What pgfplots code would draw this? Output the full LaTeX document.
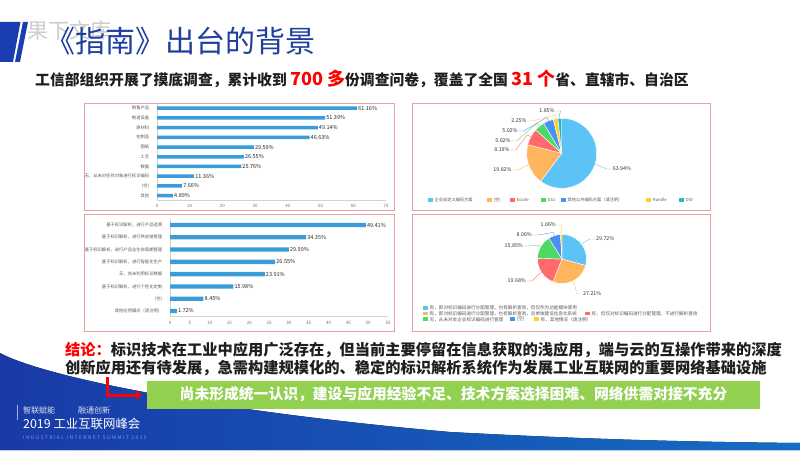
\documentclass[border=0pt]{standalone}
\usepackage{fontspec}
\setmainfont{Noto Sans CJK SC}
\usepackage{pgfplots}
\pgfplotsset{compat=1.18}
\usepackage{pgfplotstable}
\usetikzlibrary{arrows.meta}
\pgfplotsset{/pgf/number format/assume math mode=true}

\definecolor{titleblue}{HTML}{1F3F9F}
\definecolor{slideblue}{HTML}{1A3DB0}
\definecolor{barblue}{HTML}{3B9CDA}
\definecolor{frame}{HTML}{EBA1A1}
\definecolor{pA}{HTML}{5BC3F5}
\definecolor{pB}{HTML}{FFB55B}
\definecolor{pC}{HTML}{FF6B6B}
\definecolor{pD}{HTML}{4CD964}
\definecolor{pE}{HTML}{4A90F0}
\definecolor{pF}{HTML}{FFCD2E}
\definecolor{pG}{HTML}{2DB3C1}
\definecolor{boxgreen}{HTML}{92D050}
\definecolor{txt}{HTML}{595959}

\newcommand{\fsz}[1]{\fontsize{#1}{#1}\selectfont}
\newcommand{\pielabelfont}{\fontsize{5.3}{5.3}\selectfont}

\pgfplotstableread{
idx value label
0 4.89 其他
1 7.66 (空)
2 11.36 无，从未对任何对象进行标识编码
3 25.76 数据
4 26.55 工艺
5 29.59 图纸
6 46.63 在制品
7 49.14 原材料
8 51.39 制造设备
9 61.16 销售产品
}\tabA

\pgfplotstableread{
idx value label
0 1.72 其他应用模式（请注明）
1 8.45 (空)
2 15.98 基于标识解析，进行个性化定制
3 23.91 无，尚未利用标识数据
4 26.55 基于标识解析，进行智能化生产
5 29.99 基于标识解析，进行产品全生命周期管理
6 34.35 基于标识解析，进行供应链管理
7 49.41 基于标识解析，进行产品追溯
}\tabB

\pgfplotsset{
  hbarstyle/.style={
    xbar, scale only axis, anchor=south west,
    enlargelimits=false,
    ytick=data,
    axis x line*=bottom, axis y line*=left,
    axis line style={black!18, line width=0.5pt},
    tick style={draw=none},
    xticklabel style={font=\fsz{4.5}, text=black!55, yshift=-1pt},
    yticklabel style={font=\fsz{4.3}, text=txt},
    point meta=x,
    nodes near coords={\pgfmathprintnumber[fixed,fixed zerofill,precision=2]{\pgfplotspointmeta}\%},
    nodes near coords style={font=\fsz{5.5}, text=black!85, anchor=west, inner sep=1pt},
  }
}

\begin{document}
\begin{tikzpicture}[x=1pt,y=1pt]
\useasboundingbox (0,0) rectangle (800,450);
\fill[white] (0,0) rectangle (800,450);

% bottom blue wave
\fill[left color=slideblue!95!black, right color=slideblue!75!cyan]
  (0,0) -- (0,97) .. controls (40,75) and (200,40) .. (450,18)
  .. controls (600,10) and (700,8) .. (800,7) -- (800,0) -- cycle;

% top-left marks
\fill[slideblue] (0,428) -- (20.5,428) -- (13,388) -- (0,388) -- cycle;
\fill[slideblue] (23,428) -- (28,428) -- (20,388) -- (15,388) -- cycle;

% watermark and title
\node[anchor=base west, inner sep=0, font=\fsz{21}, text=black!20] at (27,411) {果下文库};
\node[anchor=base west, inner sep=0, font=\fsz{30}, text=titleblue] at (45,397.6) {《指南》出台的背景};

% subtitle
\node[anchor=base west, inner sep=0, font=\bfseries\fsz{14.8}, text=black!88] at (35,364.3)
 {工信部组织开展了摸底调查，累计收到 {\color{red}\fsz{18}700 多}份调查问卷，覆盖了全国 {\color{red}\fsz{18}31 个}省、直辖市、自治区};

% panel frames
\draw[frame, line width=0.9pt] (84,347) rectangle (394,240);
\draw[frame, line width=0.9pt] (84,236) rectangle (394,119);
\draw[frame, line width=0.9pt] (412,347) rectangle (710,240);
\draw[frame, line width=0.9pt] (412,236) rectangle (710,119);

% bar chart 1
\begin{axis}[hbarstyle, at={(157pt,250pt)}, width=229pt, height=96.2pt,
  bar width=3.5pt, xmin=0, xmax=70, ymin=-0.45, ymax=9.45,
  xtick={0,10,...,70}, yticklabels from table={\tabA}{label}]
\addplot[fill=barblue, draw=none] table[x=value, y=idx]{\tabA};
\end{axis}

% bar chart 2
\begin{axis}[hbarstyle, at={(170pt,133.5pt)}, width=218pt, height=97pt,
  bar width=4.3pt, xmin=0, xmax=55, ymin=-0.45, ymax=7.45,
  xtick={0,5,...,55}, yticklabels from table={\tabB}{label}]
\addplot[fill=barblue, draw=none] table[x=value, y=idx]{\tabB};
\end{axis}

% pie chart 1
\begin{axis}[at={(561.7pt,296.7pt)}, anchor=center, width=70pt, height=70pt, scale only axis,
  xmin=-1, xmax=1, ymin=-1, ymax=1, hide axis, clip=false]
\pgfmathsetmacro\pietotal{63.94+19.82+8.19+5.02+5.02+2.25+1.85}
\xdef\curang{90}
\foreach \v/\c/\lx/\ly/\anc/\hx in {63.94/pA/50/-15.7/west/-5, 19.82/pB/-49/-16.7/east/5,
   8.19/pC/-51/3.3/east/5, 5.02/pD/-50/12.3/east/5, 5.02/pE/-43/22.3/east/5,
   2.25/pF/-34/32.3/east/5, 1.85/pG/-6/42.3/east/5}{
  \pgfmathsetmacro\endang{\curang-\v/\pietotal*360}
  \pgfmathsetmacro\midang{(\curang+\endang)/2}
  \pgfmathsetmacro\ax{\lx+\hx}
  \edef\temp{%
    \noexpand\fill[\c, draw=white, line width=0.4pt] (axis cs:0,0) -- ++(\curang:35pt) arc[start angle=\curang, end angle=\endang, radius=35pt] -- cycle;
    \noexpand\draw[\c, line width=0.35pt] ([shift={(\midang:35pt)}]axis cs:0,0) -- ([shift={(\midang:39pt)}]axis cs:0,0) -- ([shift={(\ax pt,\ly pt)}]axis cs:0,0) -- ([shift={(\lx pt,\ly pt)}]axis cs:0,0) node[anchor=\anc, inner sep=1pt, text=black!80, font=\noexpand\pielabelfont]{\v\noexpand\%};
  }
  \temp
  \xdef\curang{\endang}
}
\end{axis}

% pie chart 2
\begin{axis}[at={(562pt,191pt)}, anchor=center, width=49pt, height=49pt, scale only axis,
  xmin=-1, xmax=1, ymin=-1, ymax=1, hide axis, clip=false]
\pgfmathsetmacro\pietotal{29.72+27.21+19.68+15.85+8.06+1.06}
\xdef\curang{90}
\foreach \v/\c/\lx/\ly/\anc/\hx in {29.72/pA/33/20/west/-5, 27.21/pB/20/-35/west/-5,
   19.68/pC/-35/-22/east/5, 15.85/pD/-38/13/east/5, 8.06/pE/-29/24/east/5,
   1.06/pF/-5/34/east/5}{
  \pgfmathsetmacro\endang{\curang-\v/\pietotal*360}
  \pgfmathsetmacro\midang{(\curang+\endang)/2}
  \pgfmathsetmacro\ax{\lx+\hx}
  \edef\temp{%
    \noexpand\fill[\c, draw=white, line width=0.4pt] (axis cs:0,0) -- ++(\curang:24.5pt) arc[start angle=\curang, end angle=\endang, radius=24.5pt] -- cycle;
    \noexpand\draw[\c, line width=0.35pt] ([shift={(\midang:24.5pt)}]axis cs:0,0) -- ([shift={(\midang:28pt)}]axis cs:0,0) -- ([shift={(\ax pt,\ly pt)}]axis cs:0,0) -- ([shift={(\lx pt,\ly pt)}]axis cs:0,0) node[anchor=\anc, inner sep=1pt, text=black!80, font=\noexpand\pielabelfont]{\v\noexpand\%};
  }
  \temp
  \xdef\curang{\endang}
}
\end{axis}

% legend pie 1
\foreach \x/\c/\t in {428/pA/企业自定义编码方案, 487/pB/(空), 510/pC/Ecode, 541/pD/GS1,
  561/pE/其他公共编码方案（请注明）, 646/pF/Handle, 679/pG/OID}{
  \fill[\c] (\x,248.3) rectangle ++(4.5,3.4);
  \node[anchor=west, inner sep=0, font=\fsz{4.2}, text=txt] at (\x+6.5,250) {\t};
}
% legend pie 2
\foreach \x/\y/\c/\t in {
  423/142/pA/有，即对标识编码进行分配管理，也有解析查询，但仅作为功能模块使用,
  423/136.5/pB/有，即对标识编码进行分配管理，也有解析查询，且单独建设信息化系统,
  585/136.5/pC/有，但仅对标识编码进行分配管理，不进行解析查询,
  423/130.7/pD/无，从未对本企业标识编码进行管理,
  510/130.7/pE/(空),
  534/130.7/pF/有，其他情况（请注明）}{
  \fill[\c] (\x,\y-1.8) rectangle ++(4.5,3.6);
  \node[anchor=west, inner sep=0, font=\fsz{4.6}, text=txt] at (\x+6.5,\y) {\t};
}

% conclusion
\node[anchor=base west, inner sep=0, font=\bfseries\fsz{15.25}, text=black!88] at (65,94.2)
 {{\color{red}结论：}标识技术在工业中应用广泛存在，但当前主要停留在信息获取的浅应用，端与云的互操作带来的深度};
\node[anchor=base west, inner sep=0, font=\bfseries\fsz{15.25}, text=black!88] at (65,76.2)
 {创新应用还有待发展，急需构建规模化的、稳定的标识解析系统作为发展工业互联网的重要网络基础设施};

% arrow and green box
\draw[red, line width=3pt, -{Triangle[length=6pt,width=9pt]}] (107,73) -- (107,55) -- (142,55);
\fill[boxgreen] (147,69) rectangle (760,41);
\node[inner sep=0, font=\bfseries\fsz{14.8}, text=white] at (453.5,55.5)
 {尚未形成统一认识，建设与应用经验不足、技术方案选择困难、网络供需对接不充分};

% bottom-left branding
\draw[white!60!slideblue, line width=0.8pt] (17,45) -- (17,30);
\node[anchor=base west, inner sep=0, font=\fsz{8}, text=white!85!slideblue] at (23,37) {智联赋能};
\node[anchor=base west, inner sep=0, font=\fsz{8}, text=white!85!slideblue] at (78,37) {融通创新};
\node[anchor=base west, inner sep=0, font=\fsz{12.4}, text=white] at (23,22) {2019 工业互联网峰会};
\node[anchor=base west, inner sep=0, font=\fsz{5}\addfontfeature{LetterSpace=28}, text=white!45!slideblue] at (23,11) {INDUSTRIAL INTERNET SUMMIT 2019};
\end{tikzpicture}
\end{document}
